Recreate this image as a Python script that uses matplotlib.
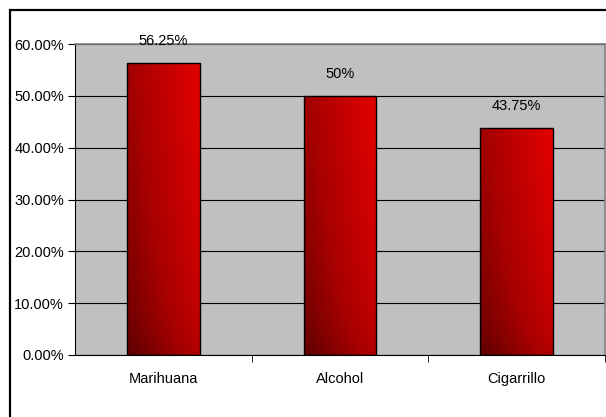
import numpy as np
import matplotlib.pyplot as plt
from matplotlib.patches import Rectangle
from matplotlib.colors import LinearSegmentedColormap
from matplotlib.ticker import FixedLocator, PercentFormatter

plt.rcParams['font.family'] = ['Liberation Sans Narrow', 'Liberation Sans', 'DejaVu Sans']

categories = ['Marihuana', 'Alcohol', 'Cigarrillo']
values = [56.25, 50.0, 43.75]
value_labels = ['56.25%', '50%', '43.75%']

fig = plt.figure(figsize=(6.06, 4.17), dpi=100)
ax = fig.add_axes([75 / 606, 62 / 417, 530 / 606, 311 / 417])
ax.set_facecolor('#C0C0C0')

# recuadro exterior del gráfico
fig.patches.append(Rectangle((9.5 / 606, -0.1), 1.2, (417 - 9.5) / 417 + 0.1,
                             transform=fig.transFigure, fill=False,
                             edgecolor='black', linewidth=1.6, zorder=10))

x = np.arange(len(categories))
bars = ax.bar(x, values, width=0.41, facecolor='none', edgecolor='black',
              linewidth=1.0, zorder=3)

# degradado oscuro (abajo-izq) a rojo vivo (arriba-der)
cmap = LinearSegmentedColormap.from_list('rojo', ['#580000', '#A80000', '#E40000'])
gx, gy = np.meshgrid(np.linspace(0, 1, 100), np.linspace(0, 1, 100))
grad = 0.55 * gx + 0.45 * np.sqrt(gy)
for bar in bars:
    x0, y0 = bar.get_x(), bar.get_y()
    im = ax.imshow(grad, cmap=cmap, origin='lower', aspect='auto',
                   extent=[x0, x0 + bar.get_width(), y0, y0 + bar.get_height()],
                   interpolation='bilinear', zorder=2)
    im.set_clip_path(bar)

for xi, v, lab in zip(x, values, value_labels):
    ax.text(xi, v + 4.3, lab, ha='center', va='center', fontsize=10.5, zorder=5)

ax.set_xlim(-0.5, 2.5)
ax.set_ylim(0, 60)
ax.yaxis.set_major_locator(FixedLocator(np.arange(0, 61, 10)))
ax.yaxis.set_major_formatter(PercentFormatter(decimals=2))
ax.grid(axis='y', color='black', linewidth=0.8, zorder=1)
ax.set_axisbelow(True)

ax.set_xticks(x)
ax.set_xticklabels(categories)
ax.xaxis.set_minor_locator(FixedLocator([0.5, 1.5, 2.5]))
ax.tick_params(axis='x', which='major', length=0, pad=12, labelsize=10.5)
ax.tick_params(axis='x', which='minor', length=5, direction='out', color='black')
ax.tick_params(axis='y', length=5, direction='out', labelsize=10.5, pad=3)

for side in ['top', 'right']:
    ax.spines[side].set_color('#808080')
    ax.spines[side].set_linewidth(1.2)
ax.spines['left'].set_color('black')
ax.spines['bottom'].set_color('black')

fig.savefig('out.png', dpi=100)
